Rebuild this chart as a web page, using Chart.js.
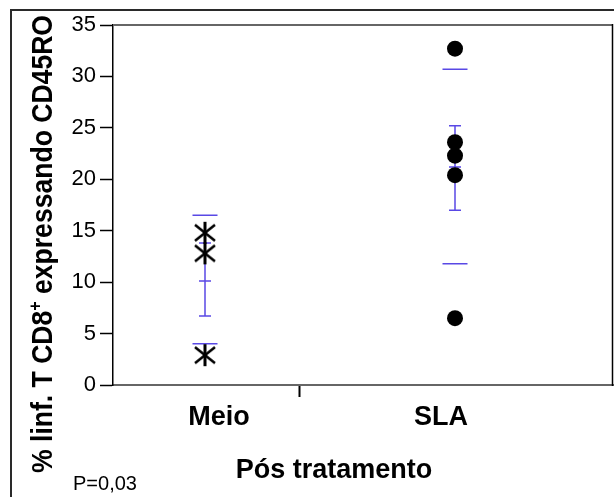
<!DOCTYPE html>
<html>
<head>
<meta charset="utf-8">
<script src="https://cdn.jsdelivr.net/npm/chart.js@4/dist/chart.umd.min.js"></script>
<style>
  html, body { margin: 0; padding: 0; background: #ffffff; }
  #wrap { width: 614px; height: 497px; }
</style>
</head>
<body>
<div id="wrap"><canvas id="c" width="614" height="497"></canvas></div>
<script>
// Groups and the individual measurements per group (%)
const categories = ['Meio', 'SLA'];
const meioValues = [14.8, 12.8, 2.9];
const slaValues = [32.7, 23.6, 22.3, 20.4, 6.5];

// Summary lines drawn for each group: mean with SEM bar, and the SD marks
const groupMeans = [10.1, 21.2];
const semLow = [6.7, 17.0];
const semHigh = [13.8, 25.2];
const sdLow = [4.0, 11.8];
const sdHigh = [16.5, 30.7];

const yTickValues = [0, 5, 10, 15, 20, 25, 30, 35];
const yTitleParts = ['% linf. T CD8', '+', ' expressando CD45RO'];
const xTitle = 'Pós tratamento';
const pValueText = 'P=0,03';

const FONT = '"Liberation Sans", Arial, Helvetica, sans-serif';
const BAR_COLOR = 'rgba(60, 40, 225, 0.85)';
const SD_HALF = 0.05;   // half width of the SD marks (x units)
const CAP_HALF = 0.024; // half width of the SEM caps (x units)

// Asterisk marker: vertical stroke plus two diagonals
function makeAsterisk() {
  const c = document.createElement('canvas');
  c.width = 26; c.height = 26;
  const g = c.getContext('2d');
  g.strokeStyle = '#000';
  g.lineCap = 'butt';
  const cx = 13, cy = 13;
  g.lineWidth = 2.6;
  g.beginPath();
  g.moveTo(cx - 10, cy - 8); g.lineTo(cx + 10, cy + 8);
  g.moveTo(cx - 10, cy + 8); g.lineTo(cx + 10, cy - 8);
  g.stroke();
  g.fillStyle = '#000';
  g.fillRect(cx - 1.5, cy - 11, 3, 22);
  return c;
}

// Segments of the summary lines for group g (x position g + 1), separated by gaps
function summarySegments(g) {
  const x = g + 1;
  const gap = { x: x, y: null };
  return [
    { x: x - SD_HALF, y: sdHigh[g] }, { x: x + SD_HALF, y: sdHigh[g] }, gap,
    { x: x - SD_HALF, y: sdLow[g] }, { x: x + SD_HALF, y: sdLow[g] }, gap,
    { x: x, y: semHigh[g] }, { x: x, y: semLow[g] }, gap,
    { x: x - CAP_HALF, y: semHigh[g] }, { x: x + CAP_HALF, y: semHigh[g] }, gap,
    { x: x - CAP_HALF, y: groupMeans[g] }, { x: x + CAP_HALF, y: groupMeans[g] }, gap,
    { x: x - CAP_HALF, y: semLow[g] }, { x: x + CAP_HALF, y: semLow[g] }
  ];
}

function summaryDataset(g) {
  return {
    type: 'line',
    data: summarySegments(g),
    borderColor: BAR_COLOR,
    borderWidth: 1.5,
    pointRadius: 0,
    showLine: true,
    spanGaps: false,
    fill: false,
    order: 2
  };
}

// Frame, plot box and text that sit outside the scales
const decorations = {
  id: 'decorations',
  afterDraw(chart) {
    const ctx = chart.ctx;
    const a = chart.chartArea;
    ctx.save();
    // outer frame (top and left)
    ctx.strokeStyle = '#2a2a2a';
    ctx.lineWidth = 2;
    ctx.beginPath();
    ctx.moveTo(10, 10); ctx.lineTo(614, 10);
    ctx.moveTo(11, 10); ctx.lineTo(11, 497);
    ctx.stroke();
    // plot box top and right
    ctx.strokeStyle = '#666';
    ctx.lineWidth = 2;
    ctx.beginPath();
    ctx.moveTo(a.left, a.top); ctx.lineTo(a.right, a.top);
    ctx.stroke();
    ctx.strokeStyle = '#000';
    ctx.lineWidth = 1.5;
    ctx.beginPath();
    ctx.moveTo(a.right - 0.5, a.top - 1); ctx.lineTo(a.right - 0.5, a.bottom + 1);
    ctx.stroke();

    ctx.fillStyle = '#000';
    // y axis title, rotated, with superscript plus
    const mainFont = 'bold 30px ' + FONT;
    const supFont = 'bold 18px ' + FONT;
    ctx.font = mainFont;
    const w0 = ctx.measureText(yTitleParts[0]).width;
    const w2 = ctx.measureText(yTitleParts[2]).width;
    ctx.font = supFont;
    const w1 = ctx.measureText(yTitleParts[1]).width;
    const total = w0 + w1 + w2;
    const squeeze = 458 / total;
    ctx.save();
    ctx.translate(52, 244);
    ctx.rotate(-Math.PI / 2);
    ctx.scale(squeeze, 1);
    ctx.textBaseline = 'alphabetic';
    ctx.textAlign = 'left';
    let x = -total / 2;
    ctx.font = mainFont;
    ctx.fillText(yTitleParts[0], x, 0); x += w0;
    ctx.font = supFont;
    ctx.fillText(yTitleParts[1], x, -11); x += w1;
    ctx.font = mainFont;
    ctx.fillText(yTitleParts[2], x, 0);
    ctx.restore();

    // x axis title
    ctx.font = 'bold 27px ' + FONT;
    ctx.textAlign = 'center';
    ctx.textBaseline = 'alphabetic';
    ctx.fillText(xTitle, 334, 478);

    // p value
    ctx.font = '20px ' + FONT;
    ctx.textAlign = 'left';
    ctx.fillText(pValueText, 73, 490);
    ctx.restore();
  }
};

const chart = new Chart(document.getElementById('c'), {
  type: 'scatter',
  data: {
    datasets: [
      summaryDataset(0),
      summaryDataset(1),
      {
        label: categories[0],
        data: meioValues.map(v => ({ x: 1, y: v })),
        pointStyle: makeAsterisk(),
        pointRadius: 12,
        order: 1
      },
      {
        label: categories[1],
        data: slaValues.map(v => ({ x: 2, y: v })),
        pointStyle: 'circle',
        pointRadius: 8,
        backgroundColor: '#000',
        borderColor: '#000',
        borderWidth: 0,
        order: 1
      }
    ]
  },
  options: {
    responsive: false,
    animation: false,
    layout: { autoPadding: false, padding: { left: 0, top: 25, right: 1, bottom: 0 } },
    plugins: {
      legend: { display: false },
      tooltip: { enabled: false },
      title: { display: false }
    },
    scales: {
      x: {
        type: 'linear',
        min: 0.632,
        max: 2.632,
        afterBuildTicks(scale) {
          // labels for the two groups and a single divider tick between them
          scale.ticks = [{ value: 1.056 }, { value: 1.376 }, { value: 1.944 }];
        },
        afterFit(scale) {
          scale.height = 112;
          scale.paddingLeft = 0;
          scale.paddingRight = 0;
        },
        ticks: {
          autoSkip: false,
          maxRotation: 0,
          padding: 4,
          color: '#000',
          font: { family: FONT, size: 27, weight: 'bold' },
          callback(value, index) {
            if (index === 0) return categories[0];
            if (index === 2) return categories[1];
            return '';
          }
        },
        grid: {
          display: true,
          drawOnChartArea: false,
          drawTicks: true,
          tickLength: 12,
          tickWidth: 2,
          tickColor: (c) => (c.index === 1 ? '#000' : 'rgba(0,0,0,0)')
        },
        border: { display: true, color: '#666', width: 2 }
      },
      y: {
        type: 'linear',
        min: 0,
        max: 35,
        afterBuildTicks(scale) {
          scale.ticks = yTickValues.map(v => ({ value: v }));
        },
        afterFit(scale) {
          scale.width = 113;
          scale.paddingTop = 0;
          scale.paddingBottom = 0;
        },
        ticks: {
          padding: 4,
          color: '#000',
          font: { family: FONT, size: 22 }
        },
        grid: {
          display: true,
          drawOnChartArea: false,
          drawTicks: true,
          tickLength: 13,
          tickWidth: 1.5,
          tickColor: '#000'
        },
        border: { display: true, color: '#000', width: 1.5 }
      }
    }
  },
  plugins: [decorations]
});
</script>
</body>
</html>
